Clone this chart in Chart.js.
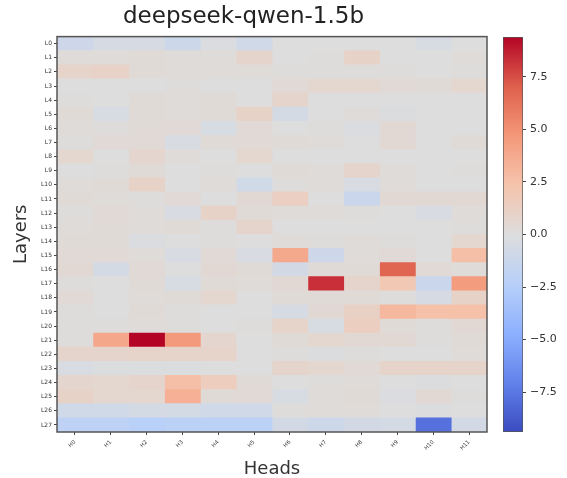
<!DOCTYPE html>
<html>
<head>
<meta charset="utf-8">
<script src="https://cdn.jsdelivr.net/npm/chart.js@4.4.1/dist/chart.umd.min.js"></script>
<style>
    html, body { margin: 0; padding: 0; background: #fff; }
    #wrap { position: relative; width: 567px; height: 478px; }
    #heatmap { position: absolute; left: 0; top: 0; }
    #colorbar { position: absolute; left: 495px; top: 0; }
</style>
</head>
<body>
<div id="wrap">
    <canvas id="heatmap" width="495" height="478"></canvas>
    <canvas id="colorbar" width="72" height="478"></canvas>
</div>
<script>
// Achsen-Kategorien
const heads = ['H0', 'H1', 'H2', 'H3', 'H4', 'H5', 'H6', 'H7', 'H8', 'H9', 'H10', 'H11'];
const layers = Array.from({ length: 28 }, (_, i) => 'L' + i);

// Werte pro Layer (Zeile), je ein Wert pro Head (aus dem Bild geschaetzt)
const values = [
    [-1.0, -0.5, -0.5, -1.1, -0.2, -0.8,  0.0,  0.0,  0.0,  0.0, -0.4,  0.0], // L0
    [ 0.2,  0.2,  0.3,  0.2,  0.2,  0.8,  0.0,  0.1,  1.0,  0.0,  0.0,  0.2], // L1
    [ 0.9,  1.1,  0.3,  0.2,  0.2,  0.2,  0.1,  0.1,  0.1,  0.1,  0.0,  0.1], // L2
    [ 0.0,  0.0,  0.0,  0.1,  0.0,  0.0,  0.4,  0.6,  0.6,  0.4,  0.3,  0.6], // L3
    [ 0.1,  0.0,  0.3,  0.2,  0.3,  0.0,  0.8,  0.0,  0.0,  0.0,  0.0,  0.0], // L4
    [ 0.3, -0.4,  0.3,  0.2,  0.3,  1.0, -0.6,  0.0,  0.2, -0.1,  0.0,  0.0], // L5
    [ 0.2,  0.1,  0.3,  0.4, -0.4,  0.4,  0.0,  0.1, -0.2,  0.5,  0.0,  0.0], // L6
    [ 0.1,  0.4,  0.4, -0.3,  0.3,  0.4,  0.3,  0.2,  0.0,  0.5,  0.0,  0.3], // L7
    [ 0.6,  0.0,  0.7,  0.2,  0.0,  0.6,  0.0,  0.0,  0.0,  0.0,  0.0,  0.0], // L8
    [ 0.0,  0.1,  0.3,  0.0,  0.1,  0.0,  0.3,  0.2,  0.8,  0.2,  0.0,  0.1], // L9
    [ 0.2,  0.3,  1.0,  0.0,  0.2, -0.8,  0.1,  0.2, -0.3,  0.2,  0.0,  0.0], // L10
    [ 0.3,  0.2,  0.1,  0.4,  0.0,  0.5,  1.3,  0.0, -1.2,  0.5,  0.5,  0.5], // L11
    [ 0.1,  0.4,  0.2, -0.3,  1.0,  0.3,  0.2,  0.2,  0.1,  0.0, -0.3,  0.2], // L12
    [ 0.2,  0.3,  0.2,  0.3,  0.1,  0.8,  0.0,  0.0,  0.0,  0.0,  0.0,  0.1], // L13
    [ 0.3,  0.3, -0.2,  0.0,  0.1,  0.0,  0.2,  0.1,  0.2,  0.1,  0.0,  0.6], // L14
    [ 0.4,  0.4,  0.2, -0.3,  0.4, -0.3,  3.8, -1.0,  0.2,  0.4,  0.0,  2.6], // L15
    [ 0.5, -0.6,  0.4,  0.0,  0.5,  0.3, -0.7,  0.3,  0.3,  6.8,  0.4,  0.2], // L16
    [ 0.1,  0.0,  0.3, -0.4,  0.3,  0.2,  0.5,  8.3,  0.8,  2.0, -1.2,  4.5], // L17
    [ 0.4,  0.0,  0.2,  0.3,  0.6,  0.0,  0.3,  0.3,  0.3,  0.1, -0.5,  1.0], // L18
    [ 0.1,  0.0,  0.3,  0.1,  0.0,  0.0, -0.5,  0.5,  1.2,  3.0,  2.5,  2.5], // L19
    [ 0.1,  0.1,  0.2,  0.1,  0.0,  0.1,  0.9, -0.4,  1.4,  0.3,  0.1,  0.5], // L20
    [ 0.1,  3.9,  9.4,  4.6,  0.7,  0.0,  0.3,  0.6,  0.5,  0.5,  0.1,  0.3], // L21
    [ 0.8,  0.8,  0.9,  0.9,  0.9,  0.0,  0.1, -0.1,  0.1,  0.0,  0.0,  0.2], // L22
    [-0.3, -0.1, -0.1, -0.1,  0.0,  0.0,  0.8,  0.6,  0.4,  0.9,  0.9,  0.9], // L23
    [ 0.7,  0.6,  0.8,  2.6,  1.5,  0.3,  0.0,  0.1,  0.2,  0.0, -0.1,  0.0], // L24
    [ 1.0,  0.6,  0.6,  3.4,  0.3,  0.4, -0.4,  0.2,  0.3, -0.2,  0.5,  0.1], // L25
    [-0.8, -0.8, -0.6, -0.6, -0.8, -0.8,  0.1,  0.2,  0.2,  0.0, -0.1,  0.0], // L26
    [-2.0, -2.0, -2.3, -2.1, -2.1, -2.1, -0.7, -1.1, -0.7, -0.6, -7.8, -0.7]  // L27
];

// Farbskala
const colorLimit = 9.4;
const colorbarTicks = [-7.5, -5.0, -2.5, 0.0, 2.5, 5.0, 7.5];

// coolwarm-Stuetzstellen
const coolwarm = [
    [59, 76, 192], [98, 130, 234], [141, 176, 254], [184, 208, 249],
    [221, 221, 221], [245, 196, 172], [244, 152, 122], [222, 96, 77], [180, 4, 38]
];

const colorAt = (t) => {
    t = Math.min(1, Math.max(0, t));
    const pos = t * (coolwarm.length - 1);
    const i = Math.min(Math.floor(pos), coolwarm.length - 2);
    const f = pos - i;
    const a = coolwarm[i], b = coolwarm[i + 1];
    const c = a.map((v, k) => Math.round(v + (b[k] - v) * f));
    return `rgb(${c[0]}, ${c[1]}, ${c[2]})`;
};

const valueColor = (v) => colorAt((v + colorLimit) / (2 * colorLimit));

const fmt = (v) => v.toFixed(1).replace('-', '\u2212');

// Rahmen um den Plotbereich
const frame = {
    id: 'frame',
    afterDatasetsDraw(chart) {
        const { ctx, chartArea: a } = chart;
        ctx.save();
        ctx.strokeStyle = '#555';
        ctx.lineWidth = 1.5;
        ctx.strokeRect(a.left, a.top, a.right - a.left, a.bottom - a.top);
        ctx.restore();
    }
};

const createHeatmap = () => {
    const ctx = document.getElementById('heatmap').getContext('2d');
    const datasets = heads.map((head, h) => ({
        label: head,
        data: layers.map(() => [h, h + 1]),
        backgroundColor: layers.map((_, l) => valueColor(values[l][h])),
        borderWidth: 0,
        inflateAmount: 0.4,
        grouped: false,
        barPercentage: 1,
        categoryPercentage: 1
    }));

    new Chart(ctx, {
        type: 'bar',
        data: { labels: layers, datasets: datasets },
        options: {
            responsive: false,
            animation: false,
            indexAxis: 'y',
            layout: { padding: { top: 0, right: 8, bottom: 0, left: 0 } },
            plugins: {
                legend: { display: false },
                tooltip: { enabled: false },
                title: {
                    display: true,
                    text: 'deepseek-qwen-1.5b',
                    color: '#222',
                    font: { family: 'DejaVu Sans', size: 23, weight: 'normal', lineHeight: 1.2 },
                    padding: { top: 3, bottom: 6 }
                }
            },
            scales: {
                x: {
                    type: 'linear',
                    min: 0,
                    max: heads.length,
                    afterBuildTicks: (scale) => {
                        scale.ticks = heads.map((_, i) => ({ value: i + 0.5 }));
                    },
                    afterFit: (scale) => { scale.height = 46; },
                    ticks: {
                        autoSkip: false,
                        maxRotation: 45,
                        minRotation: 45,
                        padding: 4,
                        color: '#333',
                        font: { family: 'DejaVu Sans', size: 5.5 },
                        callback: (v) => heads[Math.floor(v)]
                    },
                    grid: { drawOnChartArea: false, drawTicks: true, tickLength: 3, color: '#444' },
                    border: { display: false },
                    title: {
                        display: true,
                        text: 'Heads',
                        color: '#333',
                        font: { family: 'DejaVu Sans', size: 18, lineHeight: 1 },
                        padding: { top: 0, bottom: 0 }
                    }
                },
                y: {
                    type: 'category',
                    afterFit: (scale) => { scale.width = 57; },
                    ticks: {
                        autoSkip: false,
                        padding: 2,
                        color: '#333',
                        font: { family: 'DejaVu Sans', size: 6 }
                    },
                    grid: { offset: false, drawOnChartArea: false, drawTicks: true, tickLength: 3, color: '#444' },
                    border: { display: false },
                    title: {
                        display: true,
                        text: 'Layers',
                        color: '#333',
                        font: { family: 'DejaVu Sans', size: 18, lineHeight: 1.2 },
                        padding: { top: 11, bottom: 0 }
                    }
                }
            }
        },
        plugins: [frame]
    });
};

const createColorbar = () => {
    const ctx = document.getElementById('colorbar').getContext('2d');

    new Chart(ctx, {
        type: 'bar',
        data: {
            labels: [''],
            datasets: [{
                data: [[-colorLimit, colorLimit]],
                backgroundColor: (context) => {
                    const { chart } = context;
                    const area = chart.chartArea;
                    if (!area) return null;
                    const g = chart.ctx.createLinearGradient(0, area.bottom, 0, area.top);
                    coolwarm.forEach((c, i) => {
                        g.addColorStop(i / (coolwarm.length - 1), `rgb(${c[0]}, ${c[1]}, ${c[2]})`);
                    });
                    return g;
                },
                borderColor: '#555',
                borderWidth: 1,
                borderSkipped: false,
                barPercentage: 1,
                categoryPercentage: 1
            }]
        },
        options: {
            responsive: false,
            animation: false,
            layout: { padding: { top: 37, right: 0, bottom: 46, left: 8 } },
            plugins: {
                legend: { display: false },
                tooltip: { enabled: false }
            },
            scales: {
                x: { display: false },
                y: {
                    position: 'right',
                    min: -colorLimit,
                    max: colorLimit,
                    afterBuildTicks: (scale) => {
                        scale.ticks = colorbarTicks.map(v => ({ value: v }));
                    },
                    afterFit: (scale) => { scale.width = 44; },
                    ticks: {
                        padding: 4,
                        color: '#333',
                        font: { family: 'DejaVu Sans', size: 11 },
                        callback: (v) => fmt(v)
                    },
                    grid: { drawOnChartArea: false, drawTicks: true, tickLength: 3, color: '#444' },
                    border: { display: false }
                }
            }
        }
    });
};

document.addEventListener('DOMContentLoaded', () => {
    createHeatmap();
    createColorbar();
});
</script>
</body>
</html>
